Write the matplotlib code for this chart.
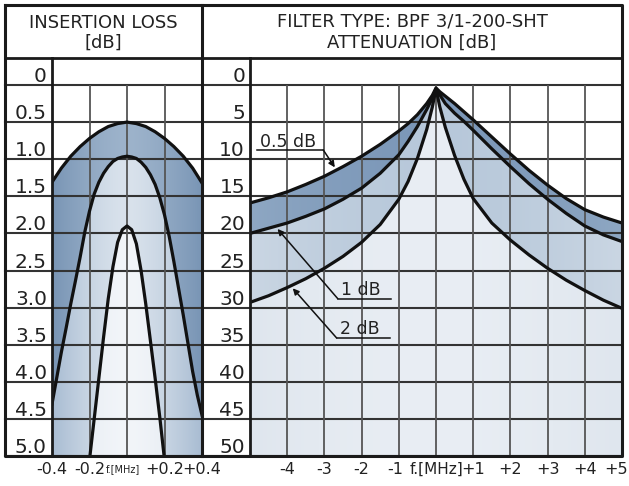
import numpy as np
import matplotlib
matplotlib.use('Agg')
import matplotlib.pyplot as plt
from matplotlib import transforms
from matplotlib.colors import to_rgb

# ---- data ----------------------------------------------------------------
# insertion loss panel (left), y in dB, x in MHz offset
il_levels = [0, 0.5, 1.0, 1.5, 2.0, 2.5, 3.0, 3.5, 4.0, 4.5, 5.0]
il_labels = ['0', '0.5', '1.0', '1.5', '2.0', '2.5', '3.0', '3.5', '4.0', '4.5', '5.0']
il_xticks = [-0.4, -0.2, 0, 0.2, 0.4]
il_xlabels = ['-0.4', '-0.2', 'f.[MHz]', '+0.2', '+0.4']

il_f_outer = [-0.4, -0.35, -0.3, -0.25, -0.2, -0.15, -0.1, -0.05, 0,
              0.05, 0.1, 0.15, 0.2, 0.25, 0.3, 0.35, 0.4]
il_outer = [1.31, 1.12, 0.96, 0.83, 0.72, 0.63, 0.56, 0.52, 0.50,
            0.52, 0.56, 0.63, 0.72, 0.83, 0.96, 1.12, 1.32]

il_f_mid = [-0.4, -0.375, -0.35, -0.325, -0.3, -0.275, -0.25, -0.225, -0.2,
            -0.175, -0.15, -0.125, -0.1, -0.075, -0.05, -0.025, 0,
            0.025, 0.05, 0.075, 0.1, 0.125, 0.15, 0.175, 0.2,
            0.225, 0.25, 0.275, 0.3, 0.325, 0.35, 0.375, 0.4]
il_mid = [4.30, 3.95, 3.60, 3.28, 2.95, 2.64, 2.32, 1.98, 1.70,
          1.47, 1.31, 1.19, 1.10, 1.03, 0.99, 0.97, 0.96,
          0.97, 0.99, 1.04, 1.11, 1.21, 1.34, 1.52, 1.75,
          2.04, 2.38, 2.74, 3.10, 3.48, 3.86, 4.18, 4.45]

il_f_inner = [-0.2, -0.175, -0.15, -0.125, -0.1, -0.075, -0.05, -0.025, 0,
              0.025, 0.05, 0.075, 0.1, 0.125, 0.15, 0.175, 0.2]
il_inner = [5.05, 4.50, 3.95, 3.40, 2.88, 2.45, 2.12, 1.95, 1.90,
            1.95, 2.14, 2.50, 2.95, 3.45, 3.95, 4.48, 5.05]

# attenuation panel (right), y in dB, x in MHz offset
att_levels = [0, 5, 10, 15, 20, 25, 30, 35, 40, 45, 50]
att_labels = ['0', '5', '10', '15', '20', '25', '30', '35', '40', '45', '50']
att_xticks = [-4, -3, -2, -1, 0, 1, 2, 3, 4, 5]
att_xlabels = ['-4', '-3', '-2', '-1', 'f.[MHz]', '+1', '+2', '+3', '+4', '+5']
att_vlines = [-4, -3, -2, -1, 0, 1, 2, 3, 4]

att_f = [-5, -4.5, -4, -3.5, -3, -2.5, -2, -1.5, -1, -0.75, -0.5, -0.25, -0.1, 0,
         0.1, 0.25, 0.5, 0.75, 1, 1.5, 2, 2.5, 3, 3.5, 4, 4.5, 5]
att_05 = [15.9, 15.2, 14.4, 13.4, 12.3, 11.0, 9.6, 8.0, 6.2, 5.2, 4.0, 2.5, 1.4, 0.4,
          0.9, 1.5, 2.5, 3.6, 4.7, 7.0, 9.3, 11.5, 13.5, 15.3, 16.8, 17.8, 18.6]
att_1 = [20.0, 19.3, 18.6, 17.7, 16.7, 15.4, 13.9, 11.9, 9.4, 7.6, 5.6, 3.3, 1.8, 0.5,
         1.3, 2.5, 3.8, 4.9, 6.1, 8.6, 11.0, 13.3, 15.4, 17.3, 19.0, 20.2, 21.1]
att_2 = [29.3, 28.4, 27.3, 26.1, 24.7, 23.1, 21.2, 18.8, 15.4, 13.0, 9.9, 6.0, 3.0, 0.5,
         2.9, 5.7, 9.5, 12.7, 15.3, 18.6, 20.9, 22.9, 24.7, 26.3, 27.7, 29.0, 30.1]

# ---- layout (pixels) -----------------------------------------------------
W, H = 629, 486
TOP, LEFT, RIGHT, BOTTOM = 5, 5, 622, 456
HEAD, ROW0 = 58, 85
L_LAB, MID, R_LAB = 52, 202, 250
INK = '#222222'


def box(x0, y0, x1, y1):
    return [x0 / W, 1 - y1 / H, (x1 - x0) / W, (y1 - y0) / H]


def shade(ax, x, top, bottom, c_edge, c_mid, z):
    poly = ax.fill_between(x, top, bottom, facecolor='none', edgecolor='none')
    xl, yl = ax.get_xlim(), ax.get_ylim()
    t = np.abs(np.linspace(-1, 1, 256)) ** 1.5
    ce, cm = np.array(to_rgb(c_edge)), np.array(to_rgb(c_mid))
    img = cm + (ce - cm) * t[:, None]
    im = ax.imshow(img[None], extent=[xl[0], xl[1], yl[0], yl[1]],
                   aspect='auto', zorder=z, interpolation='bilinear')
    im.set_clip_path(poly.get_paths()[0], transform=ax.transData)
    ax.set_xlim(xl)
    ax.set_ylim(yl)


def nudge(label, dx, dy):
    # shift a tick label by a few pixels
    label.set_transform(label.get_transform()
                        + transforms.ScaledTranslation(dx / 100, dy / 100, fig.dpi_scale_trans))


fig = plt.figure(figsize=(W / 100, H / 100), dpi=100)
ax1 = fig.add_axes(box(L_LAB, ROW0, MID, BOTTOM))
ax2 = fig.add_axes(box(R_LAB, ROW0, RIGHT, BOTTOM))

panels = [
    (ax1, (-0.4, 0.4), (5.0, 0), il_levels, il_labels, il_xticks, il_xlabels,
     il_xticks, (L_LAB - LEFT) / (MID - L_LAB)),
    (ax2, (-5, 5), (50, 0), att_levels, att_labels, att_xticks, att_xlabels,
     att_vlines, (R_LAB - MID) / (RIGHT - R_LAB)),
]
for ax, xl, yl, levels, labels, xt, xlab, vl, lab_w in panels:
    ax.set_xlim(xl)
    ax.set_ylim(yl)
    for s in ax.spines.values():
        s.set_visible(False)
    ax.set_yticks([])
    ax.set_xticks(xt, xlab)
    ax.tick_params(axis='x', length=0, pad=4, labelsize=11.5, labelcolor=INK)
    for v in levels:
        ax.axhline(v, xmin=-lab_w, xmax=1, clip_on=False, color='#333333',
                   lw=1.5, zorder=2)
    for x in vl:
        ax.axvline(x, color='#555555', lw=1.3, zorder=2)
    tr = transforms.offset_copy(ax.get_yaxis_transform(), fig=fig,
                                x=-5, y=3, units='dots')
    for v, lab in zip(levels, labels):
        ax.text(0, v, lab, transform=tr, ha='right', va='baseline',
                fontsize=14.5, color=INK, clip_on=False)

ax1.get_xticklabels()[2].set_fontsize(7)
nudge(ax1.get_xticklabels()[2], -4, -3)
ax2.get_xticklabels()[4].set_fontsize(11)
nudge(ax2.get_xticklabels()[3], -4, 0)
nudge(ax2.get_xticklabels()[-1], -6, 0)

# left panel: insertion loss
shade(ax1, il_f_outer, il_outer, 5.0, '#7995b5', '#9db3cb', 1.0)
shade(ax1, il_f_mid, il_mid, 5.0, '#a8bcd2', '#d9e2ec', 1.1)
shade(ax1, il_f_inner, il_inner, 5.0, '#dbe3ec', '#f2f5f9', 1.2)
for f, v in [(il_f_outer, il_outer), (il_f_mid, il_mid), (il_f_inner, il_inner)]:
    ax1.plot(f, v, color='#111111', lw=2.3, zorder=3)

# right panel: attenuation
shade(ax2, att_f, att_05, 50, '#8ea7c3', '#7b97b8', 1.0)
shade(ax2, att_f, att_1, 50, '#cad6e3', '#b7c8da', 1.1)
shade(ax2, att_f, att_2, 50, '#dfe6ee', '#e9eef4', 1.2)
for v in (att_05, att_1, att_2):
    ax2.plot(att_f, v, color='#111111', lw=2.3, zorder=3)

# curve labels with leaders
arrow = dict(arrowstyle='-|>', color='#111111', lw=1.1, mutation_scale=9,
             shrinkA=0, shrinkB=0)
ax2.text(-4.72, 8.36, '0.5 dB', fontsize=12.5, color=INK, zorder=4)
ax2.plot([-4.8, -3.03], [8.76, 8.76], color='#111111', lw=1.1, zorder=4)
ax2.annotate('', xy=(-2.72, 11.1), xytext=(-3.03, 8.76), arrowprops=arrow, zorder=4)

ax2.text(-2.56, 28.3, '1 dB', fontsize=12.5, color=INK, zorder=4)
ax2.plot([-2.64, -1.21], [28.8, 28.8], color='#111111', lw=1.1, zorder=4)
ax2.annotate('', xy=(-4.26, 19.4), xytext=(-2.64, 28.8), arrowprops=arrow, zorder=4)

ax2.text(-2.59, 33.6, '2 dB', fontsize=12.5, color=INK, zorder=4)
ax2.plot([-2.67, -1.24], [34.1, 34.1], color='#111111', lw=1.1, zorder=4)
ax2.annotate('', xy=(-3.85, 27.4), xytext=(-2.67, 34.1), arrowprops=arrow, zorder=4)

# table frame and headers
frame = fig.add_axes([0, 0, 1, 1], zorder=5)
frame.set_xlim(0, W)
frame.set_ylim(H, 0)
frame.axis('off')
lk = dict(color='#1a1a1a', solid_capstyle='projecting')
frame.plot([LEFT, RIGHT, RIGHT, LEFT, LEFT], [TOP, TOP, BOTTOM, BOTTOM, TOP], lw=2.2, **lk)
frame.plot([LEFT, RIGHT], [HEAD, HEAD], lw=2.0, **lk)
frame.plot([MID, MID], [TOP, BOTTOM], lw=2.2, **lk)
frame.plot([L_LAB, L_LAB], [HEAD, BOTTOM], lw=2.0, **lk)
frame.plot([R_LAB, R_LAB], [HEAD, BOTTOM], lw=2.0, **lk)

hx1, hx2 = (LEFT + MID) / 2, (MID + RIGHT) / 2
frame.text(hx1, 28, 'INSERTION LOSS', ha='center', va='baseline', fontsize=13, color=INK)
frame.text(hx1, 48, '[dB]', ha='center', va='baseline', fontsize=13, color=INK)
frame.text(hx2, 27, 'FILTER TYPE: BPF 3/1-200-SHT', ha='center', va='baseline',
           fontsize=13, color=INK)
frame.text(hx2, 48, 'ATTENUATION [dB]', ha='center', va='baseline', fontsize=13, color=INK)

fig.savefig('out.png', dpi=100, facecolor='white')
